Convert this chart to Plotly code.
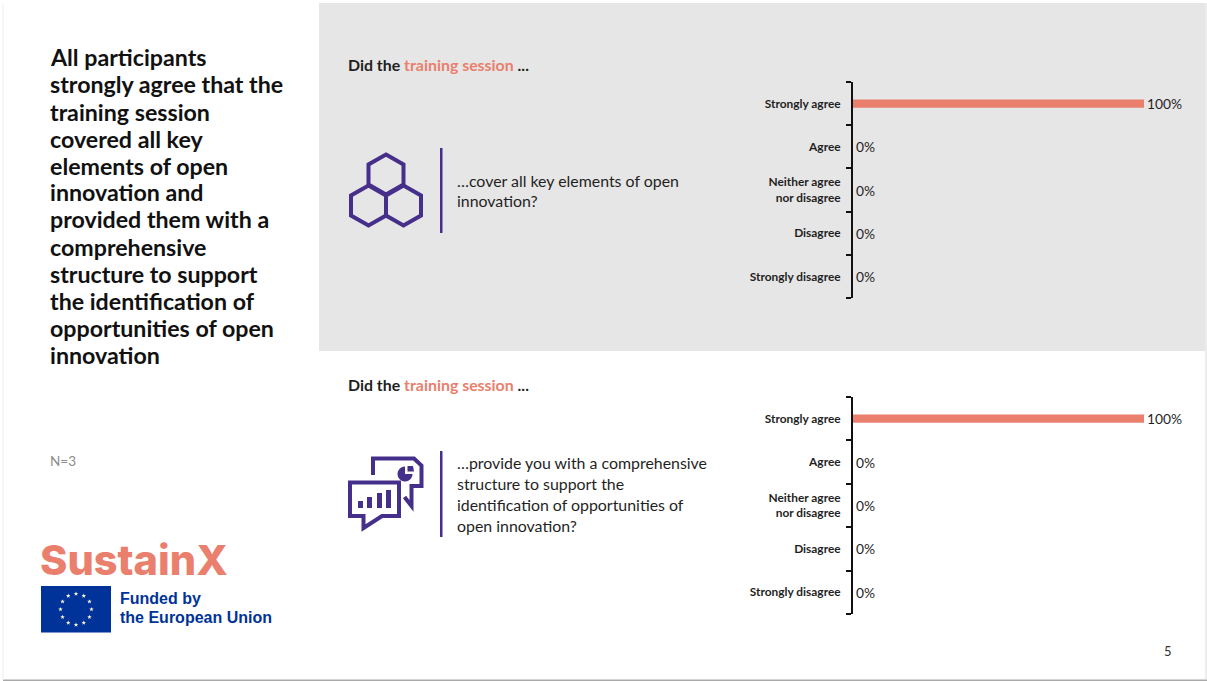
import math
import plotly.graph_objects as go

W, H = 1207, 681

# Survey results
categories = ["Strongly agree", "Agree", "Neither agree<br>nor disagree", "Disagree", "Strongly disagree"]
session_coverage = [1, 0, 0, 0, 0]
session_structure = [1, 0, 0, 0, 0]

headline_lines = [
    "All participants", "strongly agree that the", "training session", "covered all key",
    "elements of open", "innovation and", "provided them with a", "comprehensive",
    "structure to support", "the identification of", "opportunities of open", "innovation",
]
question_top = ["…cover all key elements of open", "innovation?"]
question_bottom = [
    "…provide you with a comprehensive", "structure to support the",
    "identification of opportunities of", "open innovation?",
]

SALMON = "#e97f6c"
PURPLE = "#452f8a"
EU_BLUE = "#003399"
DARK = "#1f1f1f"
BODY_FONT = "Lato"


def px(x):
    return x / W


def py(y):
    return 1 - y / H


def path(points, close=True):
    body = " L ".join(f"{px(x):.5f},{py(y):.5f}" for x, y in points)
    return "M " + body + (" Z" if close else "")


def label(x, y, text, size, color=DARK, anchor="left", family=BODY_FONT, weight=None):
    font = dict(family=family, size=size, color=color)
    if weight:
        font["weight"] = weight
    return dict(
        x=px(x), y=py(y), xref="paper", yref="paper", text=text, showarrow=False,
        xanchor=anchor, yanchor="middle", align=anchor, font=font,
    )


def hexagon(cx, cy, rx=17.5, ry=20):
    return [(cx, cy - ry), (cx + rx, cy - ry / 2), (cx + rx, cy + ry / 2),
            (cx, cy + ry), (cx - rx, cy + ry / 2), (cx - rx, cy - ry / 2)]


def star(cx, cy, r=2.4):
    pts = []
    for i in range(10):
        a = -math.pi / 2 + i * math.pi / 5
        rr = r if i % 2 == 0 else r * 0.42
        pts.append((cx + rr * math.cos(a), cy + rr * math.sin(a)))
    return pts


shapes = []


def add_rect(x0, y0, x1, y1, fill, layer="below"):
    shapes.append(dict(type="rect", xref="paper", yref="paper", x0=px(x0), x1=px(x1),
                       y0=py(y0), y1=py(y1), fillcolor=fill, line_width=0, layer=layer))


def add_path(points, fill=None, stroke=None, width=0, close=True):
    shapes.append(dict(type="path", xref="paper", yref="paper", path=path(points, close),
                       fillcolor=fill or "rgba(0,0,0,0)",
                       line=dict(color=stroke or "rgba(0,0,0,0)", width=width),
                       layer="above"))


# Slide edges and the grey upper panel
add_rect(319, 3, 1205, 351, "#e7e6e6")
add_rect(3, 679.5, 1207, 681, "#a9a9a9")
add_rect(2.5, 3, 3.5, 680, "#f0f0f0")
add_rect(1205.5, 3, 1206.5, 680, "#d9d9d9")

# Dividers beside the two questions
add_rect(440, 148, 442.5, 233, PURPLE)
add_rect(440, 451, 442.5, 537, PURPLE)

# Honeycomb icon
for cx, cy in [(386, 174.5), (368.5, 205.5), (403.5, 205.5)]:
    add_path(hexagon(cx, cy), stroke=PURPLE, width=4)

# Chat-and-charts icon
add_path([(373, 475), (373, 458.5), (414, 458.5), (421.5, 465.5), (421.5, 486), (411.5, 486),
          (411.5, 506), (404.5, 497)], stroke=PURPLE, width=4, close=False)
add_path([(350, 482.5), (399, 482.5), (399, 516), (382, 516), (363.5, 528),
          (363.5, 516), (350, 516)], stroke=PURPLE, width=4)
for x0, x1, top in [(358, 363, 501), (367, 372, 497), (377, 382, 493), (386, 391, 490)]:
    add_rect(x0, top, x1, 508, PURPLE, layer="above")
pie = [(405, 474)] + [(405 + 7.5 * math.cos(a), 474 + 7.5 * math.sin(a))
                      for a in [math.radians(d) for d in range(0, 271, 15)]]
add_path(pie, fill=PURPLE)
add_path([(407.5, 466), (413, 466), (414, 471.5), (407.5, 471.5)], fill=PURPLE)

# EU flag
add_rect(41, 586, 111, 632.5, EU_BLUE)
for i in range(12):
    a = i * math.pi / 6
    add_path(star(76 + 15.5 * math.sin(a), 609.3 - 15.5 * math.cos(a)), fill="#f4f1d0")

annotations = []

# Left column
for i, line in enumerate(headline_lines):
    annotations.append(label(48, 57.5 + i * 27, f"<b>{line}</b>", 23.2, "#111111"))
annotations.append(label(48, 461, "N=3", 13.5, "#8a8a8a"))
annotations.append(label(38, 560, "SustainX", 41.5, SALMON, family="Inter", weight=800))
annotations.append(label(118, 598.5, "<b>Funded by</b>", 16, EU_BLUE, family="Liberation Sans"))
annotations.append(label(118, 617.5, "<b>the European Union</b>", 16, EU_BLUE, family="Liberation Sans"))
annotations.append(label(1168, 651, "5", 13, "#333333", anchor="center"))

# Question headers and wording
for y in (65, 385):
    annotations.append(label(
        346, y, f'<b>Did the <span style="color:{SALMON}">training session</span> ...</b>', 15.9))
for i, line in enumerate(question_top):
    annotations.append(label(455, 180 + i * 20.5, line, 15.9))
for i, line in enumerate(question_bottom):
    annotations.append(label(455, 463 + i * 20.7, line, 15.9))

fig = go.Figure()
for values, xa, ya in [(session_coverage, "x", "y"), (session_structure, "x2", "y2")]:
    fig.add_trace(go.Bar(
        x=values, y=categories, orientation="h", xaxis=xa, yaxis=ya, width=0.19,
        marker=dict(color=SALMON, line_width=0), texttemplate="%{x:.0%}",
        textposition="outside", cliponaxis=False, hoverinfo="skip", constraintext="none",
        textfont=dict(family=BODY_FONT, size=13.8, color=DARK),
    ))

x_axis = dict(range=[0, 1], domain=[px(853), px(1144)], visible=False, fixedrange=True)
y_axis = dict(
    type="category", categoryorder="array", categoryarray=categories[::-1],
    tickson="boundaries", ticks="outside", ticklen=5, tickwidth=1.5, tickcolor="#111111",
    showline=True, linecolor="#111111", linewidth=2, showgrid=False, zeroline=False,
    tickfont=dict(family=BODY_FONT, size=11.9, color=DARK, weight="bold"),
    ticklabelstandoff=8, fixedrange=True,
)

fig.update_layout(
    width=W, height=H, autosize=False, showlegend=False,
    margin=dict(l=0, r=0, t=0, b=0),
    paper_bgcolor="white", plot_bgcolor="rgba(0,0,0,0)",
    bargap=0.8,
    xaxis=dict(x_axis, anchor="y"),
    xaxis2=dict(x_axis, anchor="y2"),
    yaxis=dict(y_axis, domain=[py(298), py(82)], anchor="x"),
    yaxis2=dict(y_axis, domain=[py(614), py(397)], anchor="x2"),
    shapes=shapes, annotations=annotations,
)

fig.write_html("out.html", config=dict(displayModeBar=False))
